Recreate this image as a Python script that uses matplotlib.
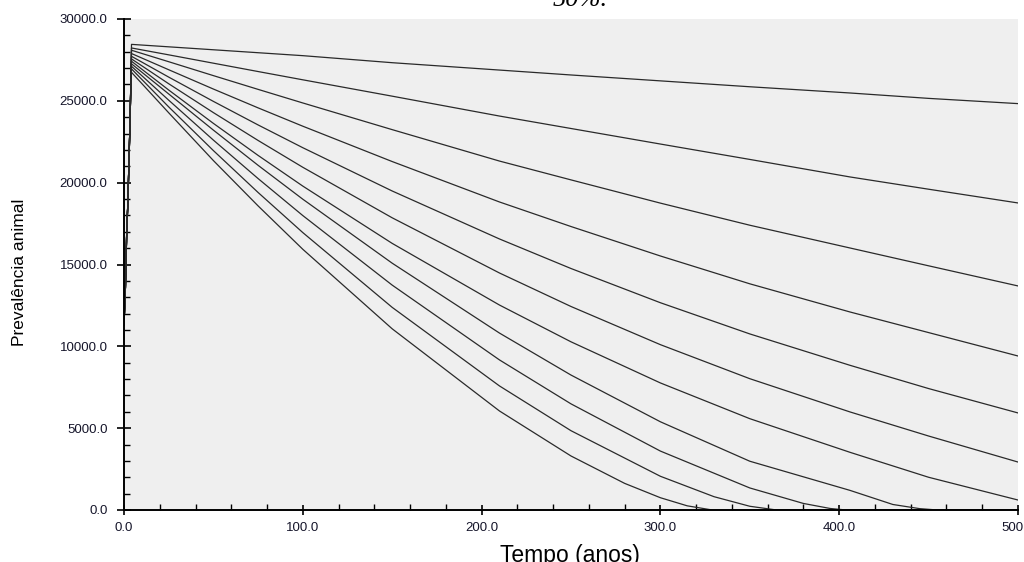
import matplotlib
matplotlib.use('agg')
import matplotlib.pyplot as plt
from matplotlib.ticker import MultipleLocator, FormatStrFormatter

# rise before the intervention (shared by all runs)
rise_t = [0.0, 0.8, 1.5, 2.2, 2.8, 3.4, 3.9]
rise_v = [11300, 13600, 16900, 18900, 21400, 23800, 26450]

# common time grid after the intervention
t = [4.2, 25, 50, 75, 100, 150, 210, 250, 300, 350, 406, 450, 500]

line1 = [28450, 28300, 28120, 27940, 27760, 27330, 26880, 26580, 26220, 25860, 25480, 25150, 24830]
line2 = [28230, 27810, 27300, 26790, 26285, 25285, 24070, 23310, 22360, 21420, 20350, 19600, 18760]
line3 = [28090, 27390, 26540, 25700, 24870, 23240, 21320, 20170, 18750, 17400, 16010, 14920, 13690]
line4 = [27890, 26900, 25720, 24570, 23450, 21290, 18820, 17320, 15520, 13820, 12100, 10840, 9410]
line5 = [27720, 26450, 24966, 23527, 22136, 19491, 16560, 14755, 12664, 10758, 8842, 7420, 5930]
line6 = [27560, 26044, 24280, 22579, 20940, 17853, 14481, 12434, 10102, 8023, 5993, 4520, 2930]
line7 = [27420, 25661, 23622, 21665, 19791, 16290, 12523, 10276, 7763, 5580, 3526, 2000, 610]

# runs that die out before t=500
t8 = [4.2, 25, 50, 75, 100, 150, 210, 250, 300, 350, 406, 430, 445, 455, 500]
line8 = [27260, 25420, 23210, 21060, 18990, 15080, 10810, 8245, 5390, 2980, 1200, 337, 83, 0, 0]
t9 = [4.2, 25, 50, 75, 100, 150, 210, 250, 300, 350, 380, 395, 404, 500]
line9 = [27110, 25040, 22600, 20250, 17990, 13740, 9170, 6485, 3600, 1347, 400, 92, 0, 0]
t10 = [4.2, 25, 50, 75, 100, 150, 210, 250, 300, 330, 350, 365, 500]
line10 = [26950, 24630, 21960, 19400, 16950, 12380, 7580, 4845, 2060, 813, 228, 0, 0]
t11 = [4.2, 25, 50, 75, 100, 150, 210, 250, 280, 300, 315, 329, 500]
line11 = [26740, 24270, 21350, 18580, 15930, 11070, 6050, 3300, 1627, 750, 255, 0, 0]

runs = [(t, line1), (t, line2), (t, line3), (t, line4), (t, line5), (t, line6),
        (t, line7), (t8, line8), (t9, line9), (t10, line10), (t11, line11)]

plt.rcParams['font.family'] = ['Liberation Sans', 'DejaVu Sans']

fig = plt.figure(figsize=(10.24, 5.62), dpi=100)
ax = fig.add_axes([124 / 1024, 1 - 510 / 562, 894 / 1024, 491 / 562])
ax.set_facecolor('#efefef')

for tt, vv in runs:
    ax.plot(rise_t + tt, rise_v + vv, color='#2a2a2a', lw=0.9)

ax.set_xlim(0, 500)
ax.set_ylim(0, 30000)
ax.xaxis.set_major_locator(MultipleLocator(100))
ax.xaxis.set_minor_locator(MultipleLocator(20))
ax.yaxis.set_major_locator(MultipleLocator(5000))
ax.yaxis.set_minor_locator(MultipleLocator(1000))
ax.xaxis.set_major_formatter(FormatStrFormatter('%.1f'))
ax.yaxis.set_major_formatter(FormatStrFormatter('%.1f'))
ax.tick_params(which='major', direction='inout', width=1.2,
               labelsize=9.5, labelcolor='#15152a')
ax.tick_params(axis='y', which='major', length=9.5, pad=7)
ax.tick_params(axis='x', which='major', length=7.5, pad=5)
ax.tick_params(which='minor', direction='in', length=4.3, width=1)
for s in ['top', 'right']:
    ax.spines[s].set_visible(False)
for s in ['left', 'bottom']:
    ax.spines[s].set_linewidth(1.4)

# axis titles sit where the source image put them (x title runs off the bottom)
fig.text(570 / 1024, 0.0, 'Tempo (anos)', fontsize=16.5,
         ha='center', va='baseline')
fig.text(20 / 1024, 1 - 272 / 562, 'Prevalência animal', fontsize=12.5,
         rotation=90, ha='center', va='center')

fig.text(580 / 1024, 1 - 6 / 562, '50%.', family='Liberation Serif',
         style='italic', fontsize=19, ha='center', va='baseline')

fig.savefig('out.png', dpi=100)
